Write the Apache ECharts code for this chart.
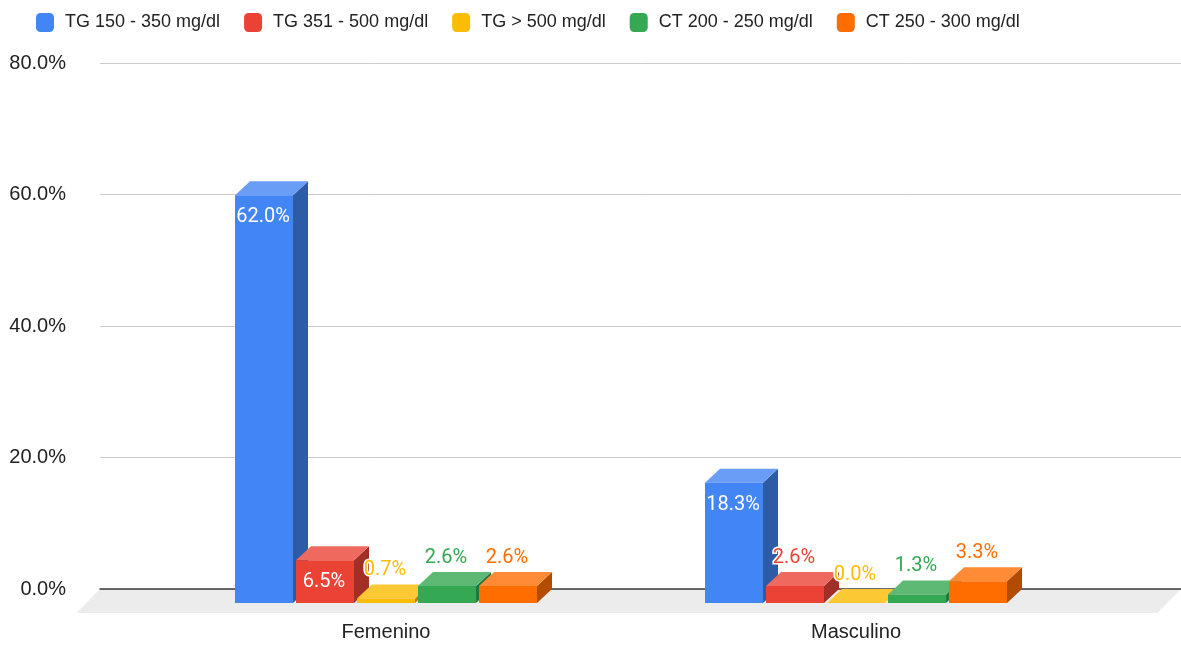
<!DOCTYPE html>
<html>
<head>
<meta charset="utf-8">
<script src="https://cdn.jsdelivr.net/npm/echarts@6/dist/echarts.min.js"></script>
<style>
  html, body { margin: 0; padding: 0; background: #ffffff; }
  #chart { width: 1181px; height: 647px; }
</style>
</head>
<body>
<div id="chart"></div>
<script>
// Categories and series values (percent)
const categories = ['Femenino', 'Masculino'];
const seriesNames = ['TG 150 - 350 mg/dl', 'TG 351 - 500 mg/dl', 'TG > 500 mg/dl', 'CT 200 - 250 mg/dl', 'CT 250 - 300 mg/dl'];
const tg150_350 = [62.0, 18.3];
const tg351_500 = [6.5, 2.6];
const tgOver500 = [0.7, 0.0];
const ct200_250 = [2.6, 1.3];
const ct250_300 = [2.6, 3.3];
const yTicks = [0, 20, 40, 60, 80];

// Face colours per series: front, top, side
const palette = [
  { front: '#4285F4', top: '#6a9ef6', side: '#2d5ba6' },
  { front: '#EA4335', top: '#ee6a5f', side: '#a22f26' },
  { front: '#FBBC04', top: '#fcc934', side: '#b08403' },
  { front: '#34A853', top: '#5db974', side: '#24763a' },
  { front: '#FF6D01', top: '#ff8b36', side: '#b34c00' }
];

const values = [tg150_350, tg351_500, tgOver500, ct200_250, ct250_300];

// 3D depth offsets: front plane sits left/down of the back plane
const DX = 15, DY = 14;        // bar depth
const FDX = 23.5, FDY = 24;    // floor depth

const chart = echarts.init(document.getElementById('chart'), null, { renderer: 'canvas' });

function barRenderer(sIdx) {
  return function (params, api) {
    const cat = api.value(0);
    const val = api.value(1);
    const base = api.coord([cat, 0]);
    const top = api.coord([cat, val]);
    const band = api.size([1, 0])[0];
    const barW = band * 58 / 470;
    const pitch = band * 61 / 470;
    const x0 = base[0] + (sIdx - 2) * pitch - barW / 2;   // back-left x
    const x1 = x0 + barW;
    const yb = base[1], yt = top[1];
    const c = palette[sIdx];
    const children = [
      { // side face
        type: 'polygon',
        shape: { points: [[x1 - DX, yt + DY], [x1, yt], [x1, yb], [x1 - DX, yb + DY]] },
        style: { fill: c.side }
      },
      { // top face
        type: 'polygon',
        shape: { points: [[x0 - DX, yt + DY], [x0, yt], [x1, yt], [x1 - DX, yt + DY]] },
        style: { fill: c.top }
      },
      { // front face
        type: 'rect',
        shape: { x: x0 - DX, y: yt + DY, width: barW, height: yb - yt },
        style: { fill: c.front }
      }
    ];
    const labelText = val.toFixed(1) + '%';
    const cx = x0 - DX + barW / 2 - 1;
    if (val >= 5) {
      // label inside the front face, near its top
      children.push({
        type: 'text',
        style: {
          x: cx, y: yt + DY + 22, text: labelText,
          fill: '#ffffff', font: '20px Roboto',
          align: 'center', verticalAlign: 'middle'
        }
      });
    } else {
      // label above the bar with a white halo
      children.push({
        type: 'text',
        style: {
          x: cx, y: yt - 14, text: labelText,
          fill: c.front, font: '20px Roboto',
          stroke: '#ffffff', lineWidth: 3,
          align: 'center', verticalAlign: 'middle'
        }
      });
    }
    return { type: 'group', children: children };
  };
}

const barSeries = seriesNames.map(function (name, i) {
  return {
    name: name,
    type: 'custom',
    xAxisIndex: 1,
    yAxisIndex: 1,
    z: 5,
    itemStyle: { color: palette[i].front },
    renderItem: barRenderer(i),
    encode: { x: 0, y: 1 },
    data: values[i].map(function (v, k) { return [k, v]; })
  };
});

const floorSeries = {
  name: 'floor',
  type: 'custom',
  xAxisIndex: 0,
  yAxisIndex: 0,
  z: -10,
  silent: true,
  renderItem: function (params, api) {
    const a = api.coord([0, 0]);
    const b = api.coord([1, 0]);
    return {
      type: 'polygon',
      shape: { points: [[a[0], a[1]], [b[0], b[1]], [b[0] - FDX, b[1] + FDY], [a[0] - FDX, a[1] + FDY]] },
      style: { fill: '#ececec' }
    };
  },
  data: [[0, 0]]
};

const option = {
  backgroundColor: '#ffffff',
  animation: false,
  legend: {
    data: seriesNames,
    left: 31,
    top: 8,
    itemWidth: 18,
    itemHeight: 19,
    itemGap: 24,
    icon: 'roundRect',
    textStyle: {
      fontFamily: 'Liberation Sans',
      fontSize: 18,
      color: '#222222',
      padding: [0, 0, 0, 6]
    }
  },
  grid: [
    { left: 100, right: 0, top: 63, bottom: 58 },
    { left: 166, right: 75, top: 63, bottom: 58 }
  ],
  xAxis: [
    {
      type: 'value', gridIndex: 0, min: 0, max: 1, z: 1,
      axisLine: { show: true, lineStyle: { color: '#3c3c3c', width: 1.5 } },
      axisTick: { show: false }, axisLabel: { show: false }, splitLine: { show: false }
    },
    {
      type: 'category', gridIndex: 1, data: categories,
      axisLine: { show: false }, axisTick: { show: false }, splitLine: { show: false },
      axisLabel: {
        margin: 33, fontFamily: 'Liberation Sans', fontSize: 20, color: '#222222',
        padding: [0, 30, 0, 0]
      }
    }
  ],
  yAxis: [
    {
      type: 'value', gridIndex: 0, min: yTicks[0], max: yTicks[yTicks.length - 1],
      interval: yTicks[1] - yTicks[0],
      axisLine: { show: false }, axisTick: { show: false },
      axisLabel: {
        margin: 34, fontFamily: 'Liberation Sans', fontSize: 20, color: '#222222',
        formatter: function (v) { return v.toFixed(1) + '%'; }
      },
      splitLine: { lineStyle: { color: '#cccccc', width: 1 } }
    },
    {
      type: 'value', gridIndex: 1, min: yTicks[0], max: yTicks[yTicks.length - 1],
      interval: yTicks[1] - yTicks[0], show: false
    }
  ],
  series: [floorSeries].concat(barSeries)
};

chart.setOption(option);
</script>
</body>
</html>
